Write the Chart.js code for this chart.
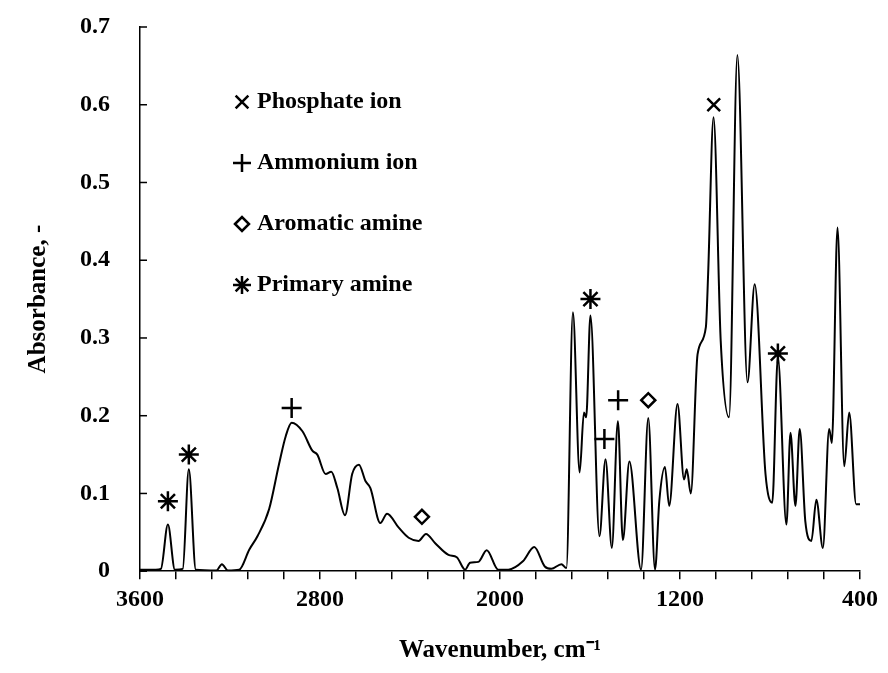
<!DOCTYPE html>
<html>
<head>
<meta charset="utf-8">
<script src="https://cdn.jsdelivr.net/npm/chart.js@4.4.0/dist/chart.umd.min.js"></script>
<style>
  html, body { margin: 0; padding: 0; background: #fff; }
  #wrap { width: 888px; height: 673px; }
</style>
</head>
<body>
<div id="wrap"><canvas id="ftir"></canvas></div>
<script>
// wavenumber (cm-1) and absorbance
const wavenumbers = [3600, 3530, 3507, 3476, 3445, 3410, 3383, 3352, 3260, 3236, 3210, 3159, 3114, 3078, 3026, 2982,
  2952, 2926, 2878, 2834, 2812, 2775, 2750, 2723, 2689, 2657, 2627, 2598, 2576, 2532, 2502, 2450, 2406, 2362,
  2329, 2288, 2229, 2192, 2155, 2133, 2096, 2059, 2008, 1963, 1897, 1848, 1801, 1772, 1727, 1705, 1676, 1646,
  1627, 1617, 1598, 1558, 1531, 1503, 1476, 1454, 1425, 1373, 1341, 1311, 1292, 1267, 1248, 1211, 1182, 1170,
  1152, 1122, 1085, 1075, 1051, 1019, 982, 945, 900, 868, 820, 790, 765, 727, 709, 687, 668, 643, 616, 594,
  565, 537, 525, 500, 470, 448, 417, 400];
const absorbance = [0.002, 0.002, 0.003, 0.060, 0.002, 0.003, 0.131, 0.002, 0.001, 0.009, 0.001, 0.002, 0.028, 0.045, 0.080, 0.138,
  0.174, 0.191, 0.180, 0.155, 0.150, 0.125, 0.128, 0.107, 0.072, 0.125, 0.137, 0.116, 0.107, 0.062, 0.074, 0.056, 0.043, 0.039,
  0.048, 0.036, 0.021, 0.018, 0.002, 0.011, 0.012, 0.027, 0.002, 0.002, 0.013, 0.031, 0.006, 0.003, 0.009, 0.004, 0.333, 0.127,
  0.204, 0.198, 0.329, 0.045, 0.144, 0.030, 0.193, 0.040, 0.141, 0.002, 0.197, 0.002, 0.090, 0.134, 0.084, 0.215, 0.118, 0.131,
  0.100, 0.279, 0.314, 0.382, 0.584, 0.296, 0.198, 0.664, 0.243, 0.369, 0.125, 0.088, 0.275, 0.060, 0.178, 0.084, 0.183, 0.064, 0.039, 0.092,
  0.030, 0.183, 0.165, 0.442, 0.135, 0.204, 0.086, 0.086];

// band assignment markers
const phosphateX = [1050], phosphateY = [0.60];
const ammoniumX = [2926, 1536, 1475], ammoniumY = [0.21, 0.17, 0.22];
const aromaticX = [2347, 1341], aromaticY = [0.07, 0.22];
const primaryX = [3476, 3383, 1598, 765], primaryY = [0.09, 0.15, 0.35, 0.28];

const xTicks = [];
for (let v = 3600; v >= 400; v -= 160) xTicks.push(v);
const yTicks = [0, 0.1, 0.2, 0.3, 0.4, 0.5, 0.6, 0.7];

const legendItems = [
  { label: 'Phosphate ion', style: 'crossRot' },
  { label: 'Ammonium ion', style: 'cross' },
  { label: 'Aromatic amine', style: 'rectRot' },
  { label: 'Primary amine', style: 'star' }
];

const FONT = '"Liberation Serif", "Times New Roman", serif';

function pts(xs, ys) {
  return xs.map((x, i) => ({ x: x, y: ys[i] }));
}

function markerSet(xs, ys, style, r) {
  return {
    type: 'scatter',
    data: pts(xs, ys),
    pointStyle: style,
    pointRadius: r,
    borderColor: '#000',
    backgroundColor: '#fff',
    pointBorderWidth: 2.5,
    showLine: false
  };
}

// y ticks point inward, legend drawn inside the plot
const extras = {
  id: 'extras',
  afterDraw(chart) {
    const c = chart.ctx, a = chart.chartArea, ys = chart.scales.y;
    c.save();
    c.strokeStyle = '#000';
    c.lineWidth = 1.5;
    yTicks.forEach(t => {
      const py = ys.getPixelForValue(t);
      c.beginPath();
      c.moveTo(a.left, py);
      c.lineTo(a.left + 7, py);
      c.stroke();
    });
    c.font = 'bold 24px ' + FONT;
    c.textBaseline = 'middle';
    legendItems.forEach((it, i) => {
      const y = 102 + i * 61;
      c.lineWidth = 2.5;
      c.fillStyle = '#fff';
      Chart.helpers.drawPoint(c, { pointStyle: it.style, radius: it.style === 'rectRot' ? 7 : 9, borderWidth: 2.5 }, 242, y);
      c.fillStyle = '#000';
      c.fillText(it.label, 257, y);
    });
    c.restore();
  }
};

new Chart(document.getElementById('ftir'), {
  type: 'line',
  data: {
    datasets: [
      {
        data: pts(wavenumbers, absorbance),
        borderColor: '#000',
        borderWidth: 2,
        pointRadius: 0,
        fill: false,
        cubicInterpolationMode: 'monotone'
      },
      markerSet(phosphateX, phosphateY, 'crossRot', 9),
      markerSet(ammoniumX, ammoniumY, 'cross', 10),
      markerSet(aromaticX, aromaticY, 'rectRot', 7),
      markerSet(primaryX, primaryY, 'star', 10)
    ]
  },
  options: {
    responsive: true,
    maintainAspectRatio: false,
    animation: false,
    layout: { padding: { top: 27, right: 28, left: 20, bottom: 3 } },
    plugins: { legend: { display: false }, tooltip: { enabled: false } },
    scales: {
      x: {
        type: 'linear',
        reverse: true,
        min: 400,
        max: 3600,
        afterBuildTicks: axis => { axis.ticks = xTicks.map(v => ({ value: v })); },
        ticks: {
          autoSkip: false,
          maxRotation: 0,
          color: '#000',
          padding: 6,
          font: { family: FONT, size: 24, weight: 'bold' },
          callback: v => ((v - 400) % 800 === 0 ? v : '')
        },
        grid: { drawOnChartArea: false, tickLength: 8, color: '#000', lineWidth: 1.5 },
        border: { color: '#000', width: 1.5 },
        title: {
          display: true,
          text: 'Wavenumber, cm⁻¹',
          color: '#000',
          padding: { top: 16, bottom: 4 },
          font: { family: FONT, size: 25, weight: 'bold' }
        }
      },
      y: {
        min: 0,
        max: 0.7,
        afterBuildTicks: axis => { axis.ticks = yTicks.map(v => ({ value: v })); },
        afterFit: axis => { axis.paddingTop = 0; axis.paddingBottom = 0; },
        ticks: {
          color: '#000',
          padding: 22,
          font: { family: FONT, size: 24, weight: 'bold' },
          callback: v => (v === 0 ? '0' : v.toFixed(1))
        },
        grid: { display: false },
        border: { color: '#000', width: 1.5 },
        title: {
          display: true,
          text: 'Absorbance, -',
          color: '#000',
          font: { family: FONT, size: 25, weight: 'bold' }
        }
      }
    }
  },
  plugins: [extras]
});
</script>
</body>
</html>
